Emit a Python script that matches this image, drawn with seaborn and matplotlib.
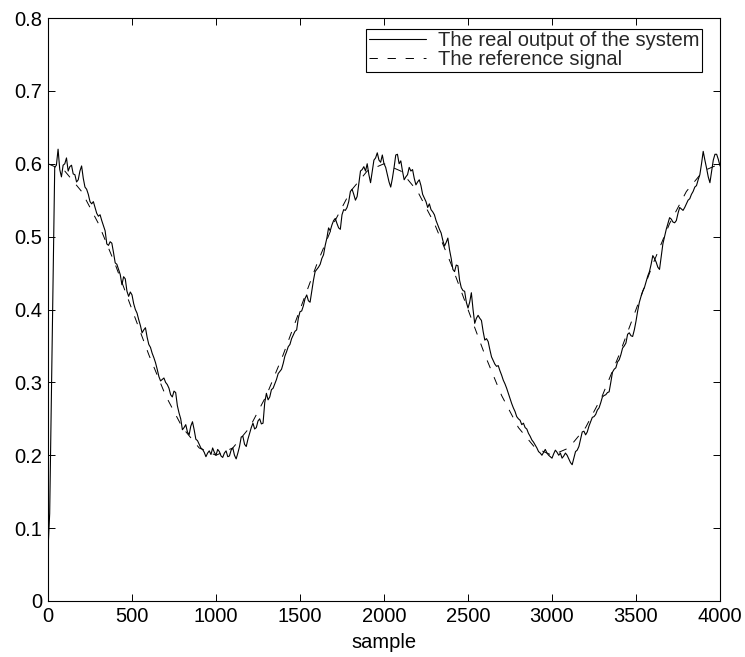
import numpy as np
import pandas as pd
import seaborn as sns
import matplotlib
matplotlib.use("Agg")
import matplotlib.pyplot as plt

# ---- data ----
real_x = list(range(0, 4001, 10))
real_y = [
    0.070, 0.120, 0.280, 0.450, 0.595, 0.598, 0.620, 0.592, 0.582, 0.598,
    0.600, 0.608, 0.590, 0.596, 0.598, 0.586, 0.585, 0.575, 0.578, 0.590,
    0.597, 0.580, 0.568, 0.565, 0.558, 0.548, 0.545, 0.548, 0.540, 0.532,
    0.528, 0.530, 0.522, 0.515, 0.508, 0.490, 0.488, 0.493, 0.491, 0.478,
    0.464, 0.462, 0.455, 0.448, 0.434, 0.445, 0.442, 0.425, 0.418, 0.424,
    0.420, 0.408, 0.400, 0.395, 0.386, 0.378, 0.368, 0.372, 0.375, 0.362,
    0.352, 0.348, 0.340, 0.334, 0.327, 0.318, 0.308, 0.302, 0.304, 0.306,
    0.300, 0.297, 0.292, 0.283, 0.280, 0.288, 0.286, 0.268, 0.258, 0.250,
    0.235, 0.238, 0.242, 0.232, 0.228, 0.240, 0.246, 0.235, 0.222, 0.220,
    0.215, 0.210, 0.208, 0.204, 0.198, 0.203, 0.206, 0.201, 0.210, 0.204,
    0.200, 0.208, 0.205, 0.199, 0.197, 0.203, 0.206, 0.198, 0.199, 0.207,
    0.210, 0.200, 0.195, 0.203, 0.212, 0.225, 0.226, 0.215, 0.212, 0.222,
    0.230, 0.238, 0.244, 0.236, 0.238, 0.247, 0.250, 0.243, 0.244, 0.272,
    0.285, 0.276, 0.280, 0.290, 0.292, 0.298, 0.304, 0.312, 0.315, 0.318,
    0.326, 0.336, 0.342, 0.349, 0.352, 0.360, 0.365, 0.370, 0.372, 0.388,
    0.397, 0.398, 0.405, 0.415, 0.420, 0.412, 0.410, 0.425, 0.440, 0.452,
    0.455, 0.458, 0.462, 0.470, 0.475, 0.488, 0.498, 0.512, 0.508, 0.516,
    0.522, 0.525, 0.518, 0.512, 0.510, 0.530, 0.537, 0.536, 0.540, 0.548,
    0.562, 0.565, 0.558, 0.550, 0.555, 0.572, 0.590, 0.592, 0.596, 0.590,
    0.600, 0.585, 0.574, 0.590, 0.605, 0.608, 0.615, 0.605, 0.602, 0.612,
    0.600, 0.595, 0.585, 0.575, 0.568, 0.580, 0.595, 0.612, 0.613, 0.600,
    0.604, 0.590, 0.578, 0.582, 0.585, 0.595, 0.590, 0.592, 0.580, 0.571,
    0.575, 0.578, 0.570, 0.558, 0.553, 0.548, 0.540, 0.545, 0.537, 0.534,
    0.530, 0.522, 0.516, 0.510, 0.505, 0.495, 0.487, 0.492, 0.498, 0.482,
    0.470, 0.455, 0.452, 0.461, 0.460, 0.440, 0.430, 0.426, 0.425, 0.410,
    0.402, 0.410, 0.423, 0.400, 0.381, 0.388, 0.392, 0.388, 0.385, 0.370,
    0.358, 0.360, 0.356, 0.345, 0.335, 0.330, 0.325, 0.322, 0.323, 0.316,
    0.310, 0.303, 0.298, 0.292, 0.285, 0.278, 0.271, 0.265, 0.260, 0.253,
    0.250, 0.248, 0.242, 0.244, 0.238, 0.236, 0.230, 0.226, 0.221, 0.218,
    0.214, 0.210, 0.205, 0.203, 0.200, 0.204, 0.208, 0.203, 0.200, 0.198,
    0.196, 0.202, 0.207, 0.204, 0.200, 0.203, 0.196, 0.199, 0.203, 0.200,
    0.195, 0.190, 0.187, 0.196, 0.205, 0.207, 0.212, 0.222, 0.232, 0.233,
    0.228, 0.232, 0.240, 0.246, 0.252, 0.253, 0.256, 0.262, 0.265, 0.272,
    0.280, 0.282, 0.283, 0.286, 0.287, 0.300, 0.314, 0.318, 0.320, 0.328,
    0.331, 0.338, 0.347, 0.350, 0.354, 0.366, 0.368, 0.364, 0.363, 0.372,
    0.384, 0.398, 0.410, 0.418, 0.425, 0.430, 0.438, 0.446, 0.452, 0.462,
    0.474, 0.470, 0.465, 0.458, 0.455, 0.472, 0.490, 0.500, 0.510, 0.518,
    0.526, 0.524, 0.520, 0.519, 0.522, 0.532, 0.540, 0.538, 0.536, 0.540,
    0.545, 0.550, 0.552, 0.558, 0.562, 0.568, 0.570, 0.578, 0.585, 0.600,
    0.617, 0.605, 0.594, 0.582, 0.574, 0.590, 0.605, 0.613, 0.613, 0.606,
    0.597,
]

ref_x = list(range(0, 4001, 100))
ref_y = [
    0.600, 0.590, 0.562, 0.518, 0.462, 0.400, 0.338, 0.282, 0.238, 0.210,
    0.200, 0.210, 0.238, 0.282, 0.338, 0.400, 0.462, 0.518, 0.562, 0.590,
    0.600, 0.590, 0.562, 0.518, 0.462, 0.400, 0.338, 0.282, 0.238, 0.210,
    0.200, 0.210, 0.238, 0.282, 0.338, 0.400, 0.462, 0.518, 0.562, 0.590,
    0.600,
]

x_ticks = [0, 500, 1000, 1500, 2000, 2500, 3000, 3500, 4000]
y_ticks = [0, 0.1, 0.2, 0.3, 0.4, 0.5, 0.6, 0.7, 0.8]
y_tick_labels = ["0", "0.1", "0.2", "0.3", "0.4", "0.5", "0.6", "0.7", "0.8"]

label_real = "The real output of the system"
label_ref = "The reference signal"

# ---- plotting ----
sns.set_theme(style="ticks")
plt.rcParams["font.family"] = ["Liberation Sans", "DejaVu Sans"]
plt.rcParams["lines.scale_dashes"] = False

FS = 14.5
fig = plt.figure(figsize=(7.45, 6.57), dpi=100)
ax = fig.add_axes([48 / 745, 56 / 657, (720 - 48) / 745, (601 - 18) / 657])

df_real = pd.DataFrame({"x": real_x, "y": real_y})
df_ref = pd.DataFrame({"x": ref_x, "y": ref_y})

sns.lineplot(data=df_real, x="x", y="y", ax=ax, color="black", linewidth=0.8,
             label=label_real)
sns.lineplot(data=df_ref, x="x", y="y", ax=ax, color="black", linewidth=0.7,
             linestyle=(0, (6, 7)), label=label_ref)

ax.set_xlim(0, 4000)
ax.set_ylim(0, 0.8)
ax.set_xticks(x_ticks)
ax.set_xticklabels([str(t) for t in x_ticks])
ax.set_yticks(y_ticks)
ax.set_yticklabels(y_tick_labels)
ax.tick_params(direction="in", length=5, width=0.7, top=True, right=True,
               labelsize=FS, colors="black", pad=4)
for s in ax.spines.values():
    s.set_visible(True)
    s.set_linewidth(0.8)
    s.set_color("black")
ax.set_xlabel("sample", fontsize=FS, labelpad=5, color="black")
ax.set_ylabel("")

leg = ax.legend(loc="upper right", bbox_to_anchor=((702 - 48) / 672, (601 - 29) / 583),
                borderaxespad=0, fontsize=FS, frameon=True, fancybox=False,
                edgecolor="black", framealpha=1, borderpad=0.12,
                labelspacing=0.0, handlelength=2.85, handletextpad=0.6)
leg.get_frame().set_linewidth(0.8)

fig.savefig("out.png", dpi=100)
